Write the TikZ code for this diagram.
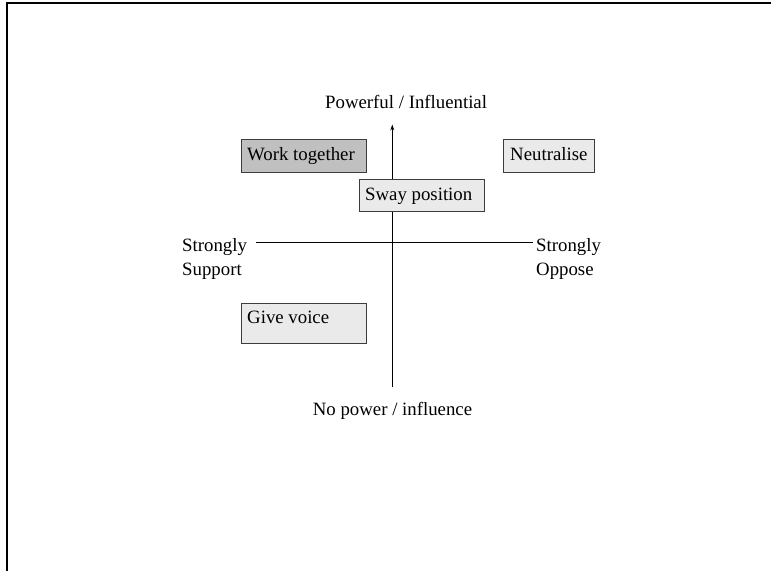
\documentclass[tikz,border=0pt]{standalone}
\usepackage{fontspec}
\setmainfont{Liberation Serif}
\usetikzlibrary{arrows.meta}
\definecolor{boxline}{RGB}{60,60,60}
\definecolor{darkfill}{RGB}{192,192,192}
\definecolor{lightfill}{RGB}{234,234,234}
\begin{document}
\begin{tikzpicture}[x=1pt,y=-1pt,
  every node/.style={font=\fontsize{18.8}{24}\selectfont},
  quadbox/.style={draw=boxline, line width=1pt, inner sep=0pt, anchor=north west},
  boxtext/.style={anchor=base west, inner sep=0pt},
  axis/.style={line width=0.9pt, black},
  axislabel/.style={anchor=base west, inner sep=0pt, align=left}]
  \useasboundingbox (0,0) rectangle (771,571);
  % page frame: top and left edges
  \draw[line width=2pt] (7,571) -- (7,3) -- (771,3);

  % strategy boxes
  \node[quadbox, fill=darkfill, minimum width=125pt, minimum height=33pt] (work) at (241,139) {};
  \node[boxtext] (worktxt) at (247,160.5) {Work together};
  \node[quadbox, fill=lightfill, minimum width=91pt, minimum height=33pt] (neut) at (503,138.5) {};
  \node[boxtext] (neuttxt) at (510,160.5) {Neutralise};
  \node[quadbox, fill=lightfill, minimum width=125pt, minimum height=40pt] (give) at (241,303) {};
  \node[boxtext] (givetxt) at (247,323.5) {Give voice};

  % axes
  \coordinate (ytop) at (392.3,124.5);
  \coordinate (ybot) at (392.3,387);
  \coordinate (xleft) at (256,242);
  \coordinate (xright) at (533,242);
  \draw[axis, -{Stealth[length=6pt,width=4pt]}] (ybot) -- (ytop);
  \draw[axis] (xleft) -- (xright);

  % box on top of the vertical axis
  \node[quadbox, fill=lightfill, minimum width=125pt, minimum height=32pt] (sway) at (359.3,178.7) {};
  \node[boxtext] (swaytxt) at (365,200.7) {Sway position};

  % axis labels (base anchor sits on the last line)
  \node[axislabel] (power) at (325,108.3) {Powerful / Influential};
  \node[axislabel] (nopower) at (312.7,415) {No power / influence};
  \node[axislabel] (support) at (182,275) {Strongly\\Support};
  \node[axislabel] (oppose) at (536,275) {Strongly\\Oppose};
\end{tikzpicture}
\end{document}
